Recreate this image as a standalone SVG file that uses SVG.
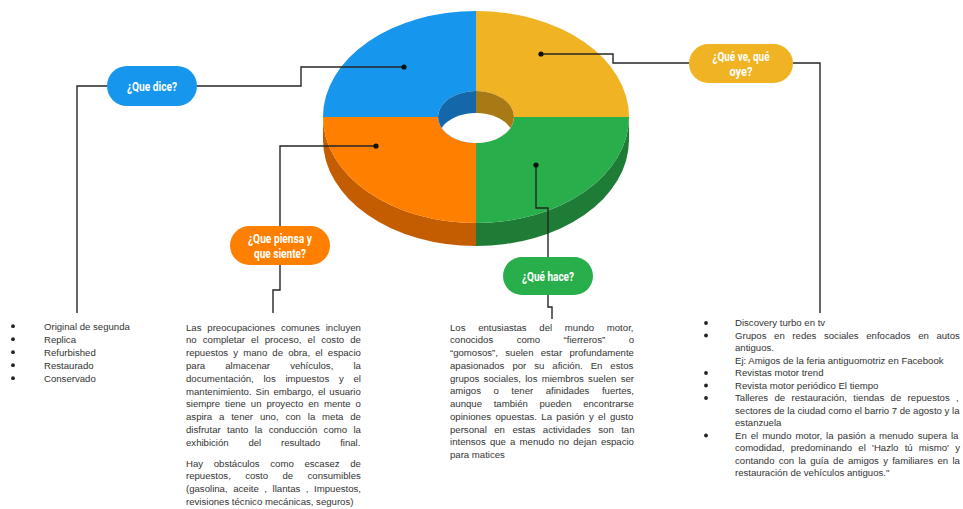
<svg xmlns="http://www.w3.org/2000/svg" width="963" height="509" viewBox="0 0 963 509">
<style>
.body{font-family:"Liberation Sans",Arial,sans-serif;font-size:9.6px;fill:#333}
.pill{font-family:Roboto,"Liberation Sans",sans-serif;font-weight:700;font-size:12px;fill:#fff;text-anchor:middle}
.conn{fill:none;stroke:#262626;stroke-width:1.4}
.dot{fill:#111}
.bul{fill:#222}
</style>
<rect width="963" height="509" fill="#fff"/>
<g id="donut">
  <path d="M323,117 L323,140 A153 106 0 0 0 476,246 L476,223 A153 106 0 0 1 323,117 Z" fill="#C45D02"/>
  <path d="M629,117 L629,140 A153 106 0 0 1 476,246 L476,223 A153 106 0 0 0 629,117 Z" fill="#1E7C36"/>
  <path d="M323,117 A153 106 0 0 1 476,11 L476,91 A38 26 0 0 0 438,117 Z" fill="#1796EE"/>
  <path d="M476,11 A153 106 0 0 1 629,117 L514,117 A38 26 0 0 0 476,91 Z" fill="#F0B323"/>
  <path d="M323,117 L438,117 A38 26 0 0 0 476,143 L476,223 A153 106 0 0 1 323,117 Z" fill="#FF7F00"/>
  <path d="M476,143 A38 26 0 0 0 514,117 L629,117 A153 106 0 0 1 476,223 Z" fill="#28AE4B"/>
  <path d="M476,91 A38 26 0 0 0 476,143 Z" fill="#1468AA"/>
  <path d="M476,91 A38 26 0 0 1 476,143 Z" fill="#A77A16"/>
  <path d="M441.6,128 A38 26 0 0 1 510.4,128 A38 26 0 0 1 441.6,128 Z" fill="#fff"/>
</g>
<g id="connectors">
  <polyline class="conn" points="404,67 301,67 301,86 197,86"/>
  <polyline class="conn" points="107,86 77,86 77,313"/>
  <polyline class="conn" points="541,54 613,54 613,63 689,63"/>
  <polyline class="conn" points="793,63 820,63 820,313"/>
  <polyline class="conn" points="376,146 280,146 280,226"/>
  <polyline class="conn" points="280,265 280,290 273,290 273,313"/>
  <polyline class="conn" points="536,165 536,208 548,208 548,257"/>
  <polyline class="conn" points="548,295 548,307 552,307 552,319"/>
  <circle class="dot" cx="404" cy="67" r="2.6"/>
  <circle class="dot" cx="541" cy="54" r="2.6"/>
  <circle class="dot" cx="376" cy="146" r="2.6"/>
  <circle class="dot" cx="536" cy="165" r="2.6"/>
</g>
<g id="node-dice">
  <rect x="107" y="66" width="90" height="40" rx="20" fill="#1796EE"/>
  <text class="pill" x="152" y="90.5" textLength="50" lengthAdjust="spacingAndGlyphs">¿Que dice?</text>
</g>
<g id="node-ve-oye">
  <rect x="689" y="44" width="104" height="39" rx="19.5" fill="#F0B323"/>
  <text class="pill" x="741" y="61" textLength="57" lengthAdjust="spacingAndGlyphs">¿Qué ve, qué</text>
  <text class="pill" x="741" y="76" textLength="23" lengthAdjust="spacingAndGlyphs">oye?</text>
</g>
<g id="node-piensa">
  <rect x="230" y="226" width="100" height="39" rx="19.5" fill="#FF7F00"/>
  <text class="pill" x="280" y="242.5" textLength="64" lengthAdjust="spacingAndGlyphs">¿Que piensa y</text>
  <text class="pill" x="280" y="257.5" textLength="52" lengthAdjust="spacingAndGlyphs">que siente?</text>
</g>
<g id="node-hace">
  <rect x="503" y="257" width="90" height="38" rx="19" fill="#28AE4B"/>
  <text class="pill" x="548" y="281" textLength="52" lengthAdjust="spacingAndGlyphs">¿Qué hace?</text>
</g>
<g id="text-dice">
  <circle class="bul" cx="13" cy="326.2" r="1.9"/>
  <circle class="bul" cx="13" cy="339.2" r="1.9"/>
  <circle class="bul" cx="13" cy="352.2" r="1.9"/>
  <circle class="bul" cx="13" cy="365.2" r="1.9"/>
  <circle class="bul" cx="13" cy="378.2" r="1.9"/>
  <text class="body" x="44" y="329.5">Original de segunda</text>
  <text class="body" x="44" y="342.5">Replica</text>
  <text class="body" x="44" y="355.5">Refurbished</text>
  <text class="body" x="44" y="368.5">Restaurado</text>
  <text class="body" x="44" y="381.5">Conservado</text>
</g>
<g id="text-piensa">
  <text class="body" x="186" y="330.5" word-spacing="3.2">Las preocupaciones comunes incluyen</text>
  <text class="body" x="186" y="343.3" word-spacing="3.47">no completar el proceso, el costo de</text>
  <text class="body" x="186" y="356.1" word-spacing="2.48">repuestos y mano de obra, el espacio</text>
  <text class="body" x="186" y="368.9" word-spacing="17.4">para almacenar vehículos, la</text>
  <text class="body" x="186" y="381.7" word-spacing="7.07">documentación, los impuestos y el</text>
  <text class="body" x="186" y="394.5" word-spacing="1.3">mantenimiento. Sin embargo, el usuario</text>
  <text class="body" x="186" y="407.3" word-spacing="2.3">siempre tiene un proyecto en mente o</text>
  <text class="body" x="186" y="420.1" word-spacing="4.19">aspira a tener uno, con la meta de</text>
  <text class="body" x="186" y="432.9" word-spacing="3.74">disfrutar tanto la conducción como la</text>
  <text class="body" x="186" y="445.7" word-spacing="17.07">exhibición del resultado final.</text>
  <text class="body" x="186" y="466.5" word-spacing="8">Hay obstáculos como escasez de</text>
  <text class="body" x="186" y="479.3" word-spacing="11.7">repuestos, costo de consumibles</text>
  <text class="body" x="186" y="492.1" word-spacing="2.9">(gasolina, aceite , llantas , Impuestos,</text>
  <text class="body" x="186" y="504.9">revisiones técnico mecánicas, seguros)</text>
</g>
<g id="text-hace">
  <text class="body" x="450" y="330.5" word-spacing="10">Los entusiastas del mundo motor,</text>
  <text class="body" x="450" y="343.3" word-spacing="20.8">conocidos como “fierreros” o</text>
  <text class="body" x="450" y="356" word-spacing="4.6">“gomosos”, suelen estar profundamente</text>
  <text class="body" x="450" y="368.8" word-spacing="5.3">apasionados por su afición. En estos</text>
  <text class="body" x="450" y="381.5" word-spacing="1.6">grupos sociales, los miembros suelen ser</text>
  <text class="body" x="450" y="394.3" word-spacing="9.85">amigos o tener afinidades fuertes,</text>
  <text class="body" x="450" y="407" word-spacing="9">aunque también pueden encontrarse</text>
  <text class="body" x="450" y="419.8" word-spacing="1.67">opiniones opuestas. La pasión y el gusto</text>
  <text class="body" x="450" y="432.5" word-spacing="4.8">personal en estas actividades son tan</text>
  <text class="body" x="450" y="445.3" word-spacing="1.5">intensos que a menudo no dejan espacio</text>
  <text class="body" x="450" y="458">para matices</text>
</g>
<g id="text-ve-oye">
  <circle class="bul" cx="706" cy="323" r="1.9"/>
  <circle class="bul" cx="706" cy="335.5" r="1.9"/>
  <circle class="bul" cx="706" cy="373" r="1.9"/>
  <circle class="bul" cx="706" cy="385.5" r="1.9"/>
  <circle class="bul" cx="706" cy="398" r="1.9"/>
  <circle class="bul" cx="706" cy="435.5" r="1.9"/>
  <text class="body" x="735" y="326.3">Discovery turbo en tv</text>
  <text class="body" x="735" y="338.8" word-spacing="4.95">Grupos en redes sociales enfocados en autos</text>
  <text class="body" x="735" y="351.3">antiguos.</text>
  <text class="body" x="735" y="363.8">Ej: Amigos de la feria antiguomotriz en  Facebook</text>
  <text class="body" x="735" y="376.3">Revistas motor trend</text>
  <text class="body" x="735" y="388.8">Revista motor periódico El tiempo</text>
  <text class="body" x="735" y="401.3" word-spacing="3.7">Talleres de restauración, tiendas de repuestos ,</text>
  <text class="body" x="735" y="413.8">sectores de la ciudad como el barrio 7 de agosto y la</text>
  <text class="body" x="735" y="426.3">estanzuela</text>
  <text class="body" x="735" y="438.8" word-spacing="1.3">En el mundo motor, la pasión a menudo supera la</text>
  <text class="body" x="735" y="451.3" word-spacing="3.55">comodidad, predominando el 'Hazlo tú mismo' y</text>
  <text class="body" x="735" y="463.8" word-spacing="1.58">contando con la guía de amigos y familiares en la</text>
  <text class="body" x="735" y="476.3">restauración de vehículos antiguos."</text>
</g>
</svg>
